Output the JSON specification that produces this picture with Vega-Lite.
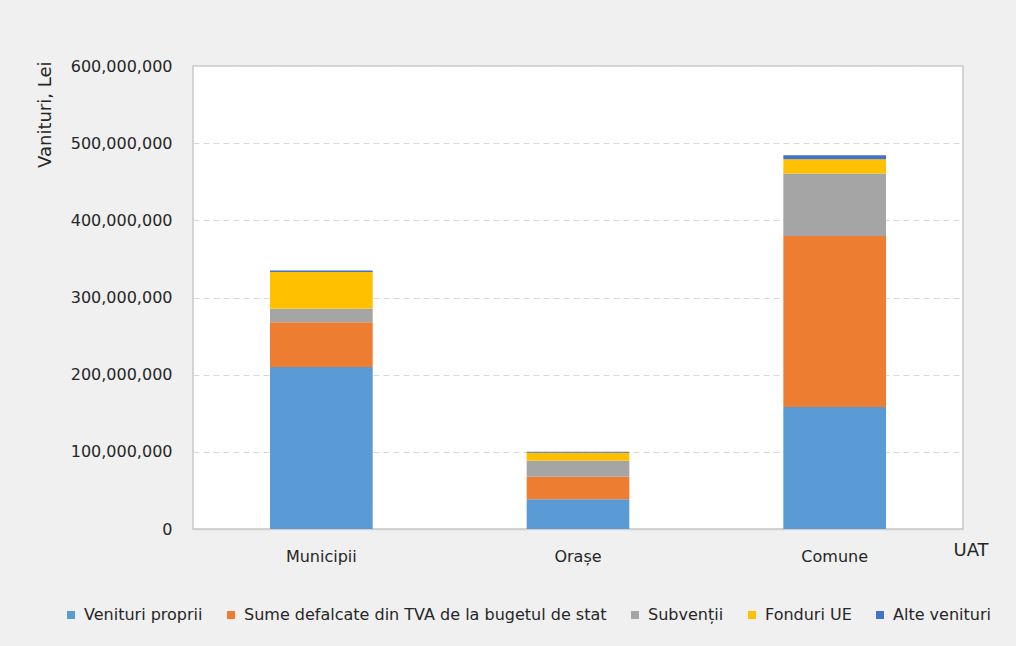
{
  "$schema": "https://vega.github.io/schema/vega-lite/v6.json",
  "autosize": {"type": "none"},
  "padding": {"left": 193, "top": 66, "right": 53, "bottom": 117},
  "width": 770,
  "height": 463,
  "background": "#f0f0f0",
  "config": {
    "font": "DejaVu Sans",
    "view": {"fill": "white", "stroke": "#c8c8c8", "strokeWidth": 1.5},
    "axis": {"labelColor": "#262626", "titleColor": "#262626", "labelFont": "DejaVu Sans", "titleFont": "DejaVu Sans", "titleFontWeight": "normal"},
    "legend": {"labelColor": "#262626", "labelFont": "DejaVu Sans"}
  },
  "data": {
    "values": [
      {"uat": "Municipii", "tip": "Venituri proprii", "ord": 1, "val": 210000000},
      {"uat": "Municipii", "tip": "Sume defalcate din TVA de la bugetul de stat", "ord": 2, "val": 58000000},
      {"uat": "Municipii", "tip": "Subvenții", "ord": 3, "val": 17500000},
      {"uat": "Municipii", "tip": "Fonduri UE", "ord": 4, "val": 47500000},
      {"uat": "Municipii", "tip": "Alte venituri", "ord": 5, "val": 2000000},
      {"uat": "Orașe", "tip": "Venituri proprii", "ord": 1, "val": 38500000},
      {"uat": "Orașe", "tip": "Sume defalcate din TVA de la bugetul de stat", "ord": 2, "val": 29300000},
      {"uat": "Orașe", "tip": "Subvenții", "ord": 3, "val": 20700000},
      {"uat": "Orașe", "tip": "Fonduri UE", "ord": 4, "val": 10400000},
      {"uat": "Orașe", "tip": "Alte venituri", "ord": 5, "val": 1300000},
      {"uat": "Comune", "tip": "Venituri proprii", "ord": 1, "val": 158000000},
      {"uat": "Comune", "tip": "Sume defalcate din TVA de la bugetul de stat", "ord": 2, "val": 221600000},
      {"uat": "Comune", "tip": "Subvenții", "ord": 3, "val": 81200000},
      {"uat": "Comune", "tip": "Fonduri UE", "ord": 4, "val": 18500000},
      {"uat": "Comune", "tip": "Alte venituri", "ord": 5, "val": 5200000}
    ]
  },
  "mark": {"type": "bar"},
  "encoding": {
    "x": {
      "field": "uat", "type": "nominal", "sort": ["Municipii", "Orașe", "Comune"],
      "scale": {"paddingInner": 0.6, "paddingOuter": 0.3},
      "axis": {
        "title": "UAT", "titleFontSize": 18, "titleAlign": "left", "titleBaseline": "alphabetic",
        "titleX": 760, "titleY": 26,
        "labelAngle": 0, "labelFontSize": 16, "labelPadding": 19, "ticks": false,
        "domainColor": "#d0d0d0", "domainWidth": 1.5
      }
    },
    "y": {
      "field": "val", "type": "quantitative", "aggregate": "sum", "stack": "zero",
      "scale": {"domain": [0, 600000000]},
      "axis": {
        "title": "Vanituri, Lei", "titleFontSize": 18, "titleAngle": -90, "titleAlign": "right",
        "titleBaseline": "middle", "titleX": -148, "titleY": -5,
        "values": [0, 100000000, 200000000, 300000000, 400000000, 500000000, 600000000],
        "format": ",d", "labelFontSize": 16, "labelPadding": 21, "ticks": false, "domain": false,
        "gridColor": "#d9d9d9", "gridDash": [6, 4], "gridWidth": 1
      }
    },
    "color": {
      "field": "tip", "type": "nominal",
      "scale": {
        "domain": ["Venituri proprii", "Sume defalcate din TVA de la bugetul de stat", "Subvenții", "Fonduri UE", "Alte venituri"],
        "range": ["#5b9bd5", "#ed7d31", "#a5a5a5", "#ffc000", "#4472c4"]
      },
      "legend": {
        "title": null, "orient": "none", "direction": "horizontal", "legendX": -130, "legendY": 541,
        "symbolType": "square", "symbolSize": 64, "symbolStrokeWidth": 0, "labelFontSize": 16,
        "labelOffset": 5, "columnPadding": 20, "labelLimit": 500
      }
    },
    "order": {"field": "ord", "type": "quantitative", "sort": "ascending"}
  }
}
